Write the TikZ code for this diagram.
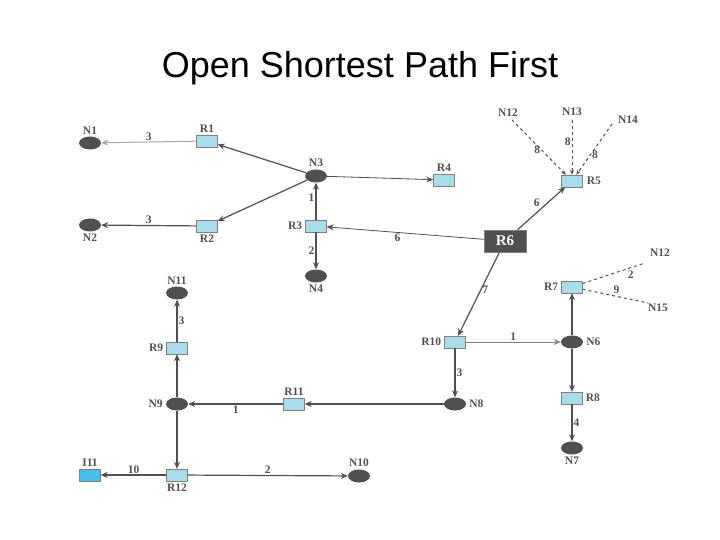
\documentclass[tikz,border=0pt]{standalone}
\usepackage{fontspec}
\setmainfont{Liberation Serif}
\newfontfamily\titlefont{Liberation Sans}
\usetikzlibrary{arrows.meta,shapes.geometric,positioning}
\definecolor{rb}{HTML}{A8DCEB}
\definecolor{dg}{HTML}{505050}
\begin{document}
\begin{tikzpicture}[x=1pt,y=-1pt,
 net/.style={ellipse,draw=none,fill=dg,minimum width=22pt,minimum height=13pt,inner sep=0pt},
 rt/.style={rectangle,draw=gray,fill=rb,minimum width=21pt,minimum height=12pt,inner sep=0pt},
 lb/.style={font=\bfseries\fontsize{11.5}{11.5}\selectfont,text=dg,inner sep=1pt},
 e/.style={draw=dg,line width=1.2pt,-{Stealth[length=7pt,width=6pt]}},
 ed/.style={draw=dg,line width=1pt,dashed,-{Stealth[length=5pt,width=4pt]}},
 dl/.style={draw=dg,line width=1pt,dashed}]
\useasboundingbox (0,0) rectangle (720,540);
\node[font=\titlefont\fontsize{36}{36}\selectfont] (t) at (360,68) {Open Shortest Path First};
\node[net] (N1) at (90,143) {};\node[lb,above=1pt of N1] {N1};
\node[rt] (R1) at (207,141) {};\node[lb,above=1pt of R1] {R1};
\node[net] (N3) at (316,176) {};\node[lb,above=1pt of N3] {N3};
\node[rt] (R4) at (444,180) {};\node[lb,above=1pt of R4] {R4};
\node[rt] (R5) at (572,181) {};\node[lb,right=3pt of R5] {R5};
\coordinate (a12) at (512,120);\node[lb] at (508,113) {N12};
\coordinate (a13) at (572,120);\node[lb] at (572,112) {N13};
\coordinate (a14) at (612,124);\node[lb] at (628,120) {N14};
\node[net] (N2) at (90,225) {};\node[lb,below=1pt of N2] {N2};
\node[rt] (R2) at (207,226) {};\node[lb,below=1pt of R2] {R2};
\node[rt] (R3) at (316,226) {};\node[lb,left=2pt of R3] {R3};
\node[net] (N4) at (316,276) {};\node[lb,below=1pt of N4] {N4};
\node[rectangle,fill=dg,draw=gray,text=white,font=\bfseries\fontsize{15}{15}\selectfont,minimum width=42pt,minimum height=22pt] (R6) at (505,241) {R6};
\node[net] (N11) at (177,293) {};\node[lb,above=1pt of N11] {N11};
\node[rt] (R7) at (572,287) {};\node[lb,left=2pt of R7] {R7};
\coordinate (b12) at (645,263);\node[lb] at (660,253) {N12};
\coordinate (b15) at (648,303);\node[lb] at (658,308) {N15};
\node[rt] (R9) at (177,348) {};\node[lb,left=2pt of R9] {R9};
\node[rt] (R10) at (455,342) {};\node[lb,left=2pt of R10] {R10};
\node[net] (N6) at (572,342) {};\node[lb,right=2pt of N6] {N6};
\node[net] (N9) at (177,404) {};\node[lb,left=2pt of N9] {N9};
\node[rt] (R11) at (294,404) {};\node[lb,above=1pt of R11] {R11};
\node[net] (N8) at (455,404) {};\node[lb,right=2pt of N8] {N8};
\node[rt] (R8) at (572,398) {};\node[lb,right=2pt of R8] {R8};
\node[net] (N7) at (572,448) {};\node[lb,below=1pt of N7] {N7};
\node[rectangle,draw=gray,fill=cyan!60!rb,minimum width=21pt,minimum height=12pt,inner sep=0pt] (I11) at (90,475) {};\node[lb,above=1pt of I11] {I11};
\node[rt] (R12) at (177,475) {};\node[lb,below=1pt of R12] {R12};
\node[net] (N10) at (359,476) {};\node[lb,above=1pt of N10] {N10};
% edges
\draw[e,draw=gray!70,line width=1pt] (R1) -- node[lb,above]{3} (N1);
\draw[e] (N3) -- (R1);
\draw[e] (N3) -- (R2);
\draw[e] (R2) -- node[lb,above]{3} (N2);
\draw[e] (R3) -- node[lb,left,pos=0.6]{1} (N3);
\draw[e,line width=0.8pt] (N3) -- (R4);
\draw[e] (R3) -- node[lb,left]{2} (N4);
\draw[e,line width=0.8pt] (R6) -- node[lb,below,pos=0.55]{6} (R3);
\draw[e] (R6) -- node[lb,above left]{6} (R5);
\draw[e] (R6) -- node[lb,right,pos=0.45]{7} (R10);
\draw[ed] (a12) -- node[lb,left,pos=0.55]{8} (R5);
\draw[ed] (a13) -- node[lb,left,pos=0.4]{8} (R5);
\draw[ed] (a14) -- node[lb,right,pos=0.6]{8} (R5);
\draw[dl] (R7) -- node[lb,below right,pos=0.7]{2} (b12);
\draw[dl] (R7) -- node[lb,above right,pos=0.45]{9} (b15);
\draw[e] (N6) -- (R7);
\draw[e] (N6) -- (R8);
\draw[e] (R8) -- node[lb,right]{4} (N7);
\draw[e,line width=0.8pt,draw=gray] (R10) -- node[lb,above]{1} (N6);
\draw[e] (R10) -- node[lb,right]{3} (N8);
\draw[e] (N8) -- (R11);
\draw[e] (R11) -- node[lb,below]{1} (N9);
\draw[e] (N9) -- (R9);
\draw[e] (R9) -- node[lb,right]{3} (N11);
\draw[e] (N9) -- (R12);
\draw[e] (R12) -- node[lb,above]{10} (I11);
\draw[e] (R12) -- node[lb,above]{2} (N10);
\end{tikzpicture}
\end{document}
